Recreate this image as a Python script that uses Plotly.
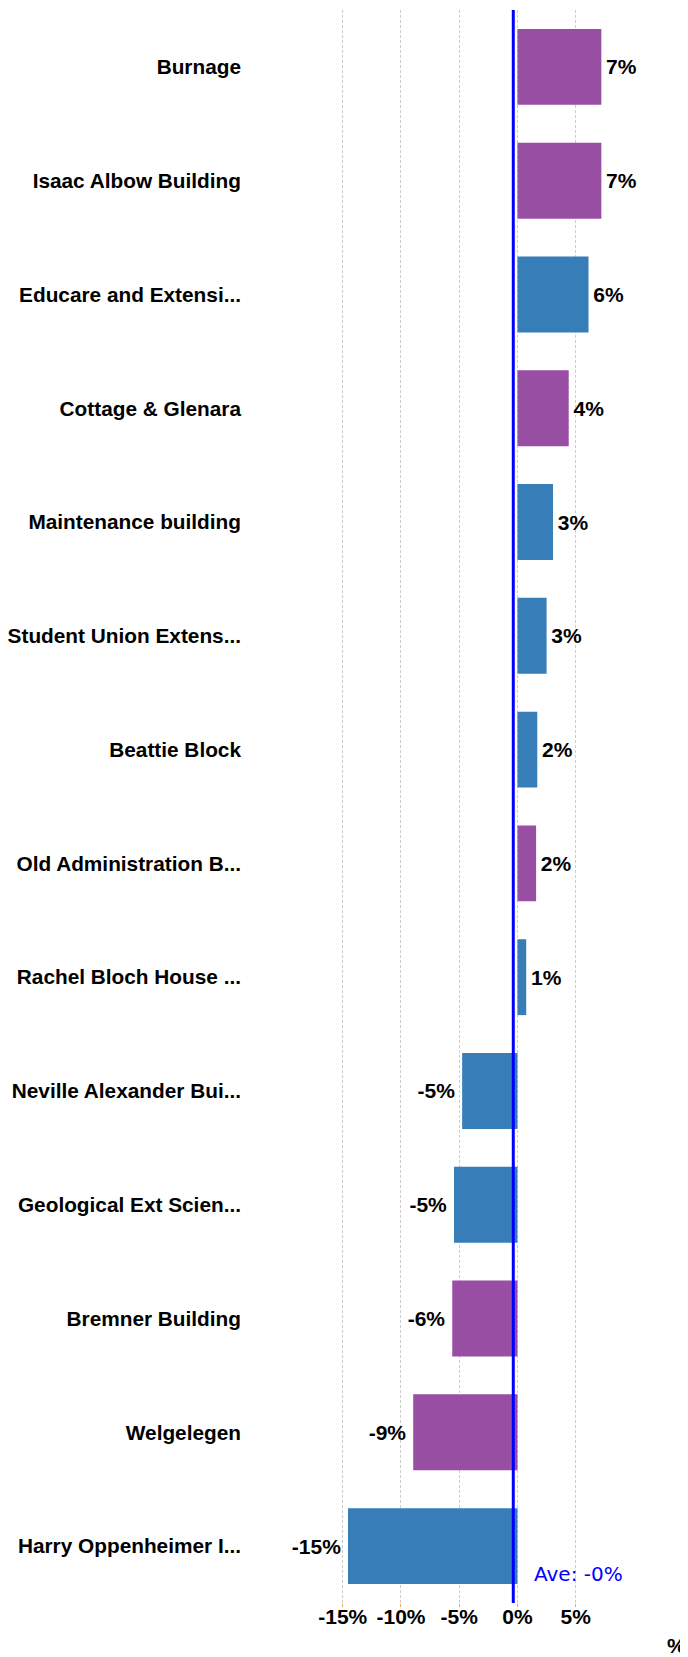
import plotly.graph_objects as go

categories = [
    "Burnage", "Isaac Albow Building", "Educare and Extensi...", "Cottage & Glenara",
    "Maintenance building", "Student Union Extens...", "Beattie Block",
    "Old Administration B...", "Rachel Bloch House ...", "Neville Alexander Bui...",
    "Geological Ext Scien...", "Bremner Building", "Welgelegen", "Harry Oppenheimer I...",
]
values = [7.2, 7.2, 6.1, 4.4, 3.05, 2.5, 1.7, 1.6, 0.75, -4.75, -5.45, -5.6, -8.95, -14.55]
value_labels = ["7%", "7%", "6%", "4%", "3%", "3%", "2%", "2%", "1%", "-5%", "-5%", "-6%", "-9%", "-15%"]
groups = ["p", "p", "b", "p", "b", "b", "b", "p", "b", "b", "b", "p", "p", "b"]
group_colors = {"p": "#984EA3", "b": "#377EB8"}
average = -0.36
average_label = "Ave: -0%"
tick_vals = [-15, -10, -5, 0, 5]
tick_text = ["-15%", "-10%", "-5%", "0%", "5%"]
x_range = [-23.65, 14.64]

templates = ["\u200a%{text}" if v >= 0 else "%{text}\u2009" for v in values]

fig = go.Figure()
fig.add_trace(go.Bar(
    y=categories, x=values, orientation="h",
    marker=dict(color=[group_colors[g] for g in groups], line=dict(width=0)),
    text=value_labels, texttemplate=templates, textposition="outside", cliponaxis=False,
    textfont=dict(family="Liberation Sans, Arial", size=21, color="black", weight="bold"),
    hoverinfo="skip",
))

fig.add_shape(type="line", xref="x", yref="paper", x0=average, x1=average, y0=0, y1=1,
              line=dict(color="#0000FF", width=3))
fig.add_annotation(xref="x", yref="paper", x=average, y=0.0182, xanchor="left", yanchor="middle",
                   xshift=19, text=average_label, showarrow=False,
                   font=dict(family="DejaVu Sans", size=20, color="#0000FF"))
fig.add_annotation(xref="paper", yref="paper", x=0.975, y=-0.0339, xanchor="center", yanchor="bottom",
                   yshift=-2, text="%", showarrow=False,
                   font=dict(family="Liberation Sans, Arial", size=21, color="black", weight="bold"))

fig.update_layout(
    width=680, height=1649,
    margin=dict(l=234, r=0, t=2, b=54),
    paper_bgcolor="white", plot_bgcolor="white",
    bargap=0.333, showlegend=False,
    font=dict(family="Liberation Sans, Arial", size=21, color="black"),
)
fig.update_xaxes(
    range=x_range, tickvals=tick_vals, ticktext=tick_text, automargin=False,
    showgrid=True, gridcolor="#cccccc", gridwidth=1, griddash="3px,2px",
    zeroline=False, showline=False,
    ticks="outside", ticklen=3, tickcolor="#f5a35c", tickwidth=1,
    ticklabelstandoff=-8,
    tickfont=dict(family="Liberation Sans, Arial", size=21, color="black", weight="bold"),
)
fig.update_yaxes(
    autorange="reversed", showgrid=False, zeroline=False, showline=False, ticks="",
    automargin=False,
    tickfont=dict(family="Liberation Sans, Arial", size=20.8, color="black", weight="bold"),
)

fig.write_html("out.html")
